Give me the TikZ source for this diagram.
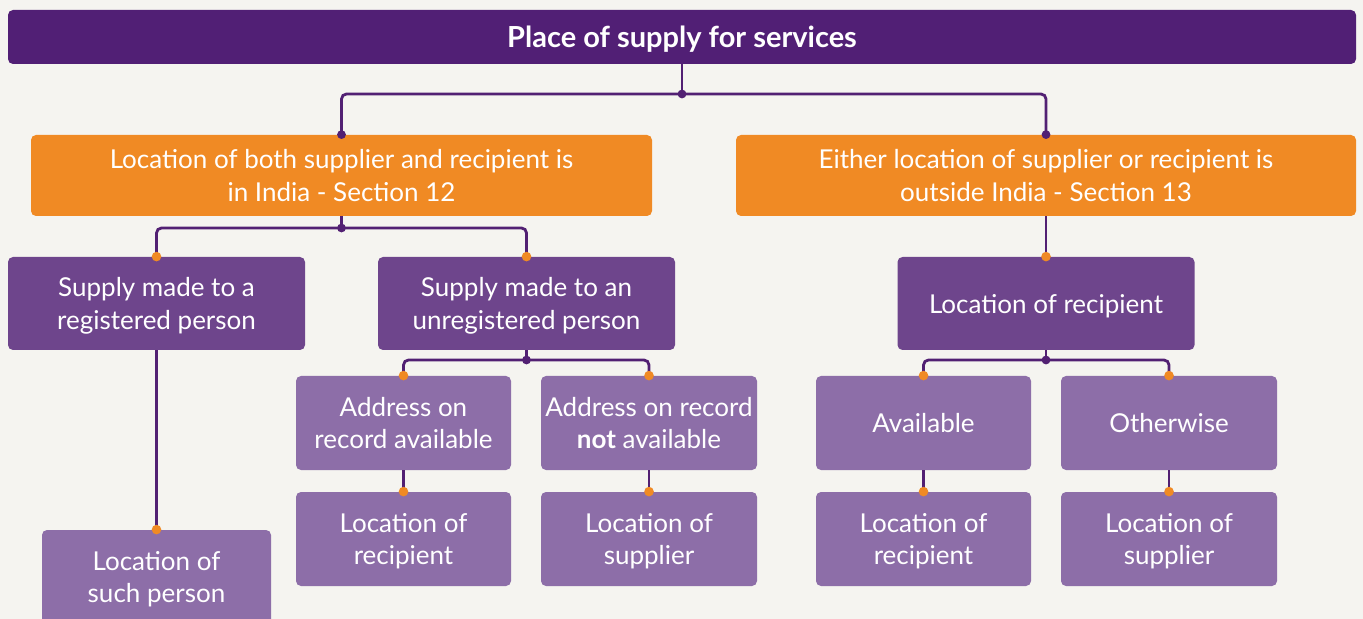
\documentclass[tikz,border=0pt]{standalone}
\usepackage{fontspec}
\setmainfont{Lato}
\usetikzlibrary{calc}
\definecolor{bgcol}{RGB}{245,244,240}
\definecolor{titlecol}{RGB}{81,31,117}
\definecolor{orangecol}{RGB}{240,138,36}
\definecolor{midcol}{RGB}{110,69,140}
\definecolor{lightcol}{RGB}{141,110,168}
\definecolor{linecol}{RGB}{82,32,115}
\tikzset{
  basebox/.style={rounded corners=2.5pt, text=white, align=center, inner sep=0pt,
    text depth=0pt, font=\fontsize{13}{16.3}\selectfont},
  titlebox/.style={basebox, fill=titlecol, font=\fontsize{14.5}{16}\selectfont\bfseries},
  secbox/.style={basebox, fill=orangecol},
  rulebox/.style={basebox, fill=midcol},
  leafbox/.style={basebox, fill=lightcol},
  link/.style={draw=linecol, line width=1.4pt, rounded corners=2.5pt},
}
\newcommand{\jdot}[1]{\fill[linecol] (#1) circle (2.2pt);}
\newcommand{\orgdot}[1]{\fill[orangecol] (#1) circle (2.4pt);}
\begin{document}
\begin{tikzpicture}[x=0.5pt,y=-0.5pt]
\clip (0,0) rectangle (1363,619);
\fill[bgcol] (0,0) rectangle (1363,619);
%% title;
\node[titlebox, minimum width=674pt, minimum height=27pt] (title) at (682,37) {Place of supply for services};
%% sections;
\node[secbox, minimum width=310.5pt, minimum height=40.5pt] (secL) at (341.5,175.5) {Location of both supplier and recipient is\\in India - Section 12};
\node[secbox, minimum width=310pt, minimum height=40.5pt] (secR) at (1046,175.5) {Either location of supplier or recipient is\\outside India - Section 13};
%% section 12;
\node[rulebox, minimum width=148.5pt, minimum height=46.5pt] (supA) at (156.5,303.5) {Supply made to a\\registered person};
\node[rulebox, minimum width=148.5pt, minimum height=46.5pt] (supB) at (526.5,303.5) {Supply made to an\\unregistered person};
\node[leafbox, minimum width=114.5pt, minimum height=47pt] (locP) at (156.5,577) {Location of\\such person};
\node[leafbox, minimum width=107.5pt, minimum height=47pt] (addrC) at (403.5,423) {Address on\\record available};
\node[leafbox, minimum width=108pt, minimum height=47pt] (addrD) at (649,423) {Address on record\\\textbf{not} available};
\node[leafbox, minimum width=107.5pt, minimum height=47pt] (locE) at (403.5,539) {Location of\\recipient};
\node[leafbox, minimum width=108pt, minimum height=47pt] (locF) at (649,539) {Location of\\supplier};
%% section 13;
\node[rulebox, minimum width=148.5pt, minimum height=46.5pt] (recG) at (1046,303.5) {Location of recipient};
\node[leafbox, minimum width=107.5pt, minimum height=47pt] (avH) at (923.5,423) {Available};
\node[leafbox, minimum width=108pt, minimum height=47pt] (othI) at (1169,423) {Otherwise};
\node[leafbox, minimum width=107.5pt, minimum height=47pt] (locJ) at (923.5,539) {Location of\\recipient};
\node[leafbox, minimum width=108pt, minimum height=47pt] (locK) at (1169,539) {Location of\\supplier};
%% junctions;
\coordinate (j0) at (682,94);
\coordinate (jL) at (341.5,228);
\coordinate (jB) at (526.5,360);
\coordinate (jG) at (1046,360);
%% links;
\draw[link] (title.south) -- (j0);
\draw[link] (j0) -| (secL.north);
\draw[link] (j0) -| (secR.north);
\draw[link] (secL.south) -- (jL);
\draw[link] (jL) -| (supA.north);
\draw[link] (jL) -| (supB.north);
\draw[link] (supA.south) -- (locP.north);
\draw[link] (supB.south) -- (jB);
\draw[link] (jB) -| (addrC.north);
\draw[link] (jB) -| (addrD.north);
\draw[link] (addrC.south) -- (locE.north);
\draw[link] (addrD.south) -- (locF.north);
\draw[link] (secR.south) -- (recG.north);
\draw[link] (recG.south) -- (jG);
\draw[link] (jG) -| (avH.north);
\draw[link] (jG) -| (othI.north);
\draw[link] (avH.south) -- (locJ.north);
\draw[link] (othI.south) -- (locK.north);
%% dots;
\jdot{j0} \jdot{secL.north} \jdot{secR.north}
\jdot{jL} \jdot{jB} \jdot{jG}
\orgdot{supA.north} \orgdot{supB.north} \orgdot{locP.north}
\orgdot{addrC.north} \orgdot{addrD.north} \orgdot{locE.north} \orgdot{locF.north}
\orgdot{recG.north} \orgdot{avH.north} \orgdot{othI.north} \orgdot{locJ.north} \orgdot{locK.north}
\end{tikzpicture}
\end{document}
